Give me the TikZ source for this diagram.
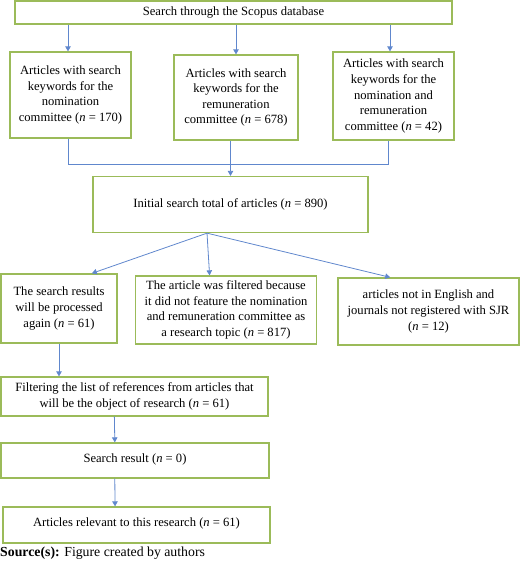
\documentclass[tikz,border=0pt]{standalone}
\usepackage{fontspec}
\setmainfont{Liberation Serif}
\usetikzlibrary{arrows.meta,calc}
\definecolor{boxgreen}{HTML}{9BBB59}
\definecolor{arrblue}{HTML}{4472C4}
\tikzset{
  box/.style={draw=boxgreen, line width=1.3pt, fill=white, align=center, inner sep=2pt,
    font=\fontsize{12.6}{15.6}\selectfont},
  link/.style={draw=arrblue!85, line width=0.8pt},
  arr/.style={link, -{Triangle[width=5.5pt,length=5pt]}},
}
\begin{document}
\begin{tikzpicture}[x=1pt,y=-1pt]
\useasboundingbox (0,0) rectangle (520,562);
\node[box, minimum width=437pt, minimum height=23pt] (top) at (233.5,12.5) {Search through the Scopus database};
\node[box, minimum width=121pt, minimum height=86pt] (a1) at (70.5,95) {Articles with search\\keywords for the\\nomination\\committee (\textit{n} = 170)};
\node[box, minimum width=124pt, minimum height=85pt] (a2) at (236,97.5) {Articles with search\\keywords for the\\remuneration\\committee (\textit{n} = 678)};
\node[box, minimum width=121pt, minimum height=88pt] (a3) at (393.5,96) {Articles with search\\keywords for the\\nomination and\\remuneration\\committee (\textit{n} = 42)};
\node[box, minimum width=275pt, minimum height=56pt] (init) at (230.5,204.5) {Initial search total of articles (\textit{n} = 890)};
\node[box, minimum width=116pt, minimum height=69pt] (b1) at (59,308.5) {The search results\\will be processed\\again (\textit{n} = 61)};
\node[box, minimum width=181pt, minimum height=68pt] (b2) at (226,310) {The article was filtered because\\it did not feature the nomination\\and remuneration committee as\\a research topic (\textit{n} = 817)};
\node[box, minimum width=181pt, minimum height=67pt] (b3) at (428.5,311.5) {articles not in English and\\journals not registered with SJR\\(\textit{n} = 12)};
\node[box, minimum width=267pt, minimum height=39pt] (c1) at (134.5,396.5) {Filtering the list of references from articles that\\will be the object of research (\textit{n} = 61)};
\node[box, minimum width=268pt, minimum height=35pt, text depth=5pt] (c2) at (135,460.5) {Search result (\textit{n} = 0)};
\node[box, minimum width=267pt, minimum height=36pt, text depth=5pt] (c3) at (136.5,525) {Articles relevant to this research (\textit{n} = 61)};
\node[anchor=west, inner sep=0pt, font=\fontsize{13.8}{16}\selectfont] (src) at (0,553) {\textbf{Source(s):} Figure created by authors};
% top to row A
\draw[arr] (top.south -| 68,0) -- (a1.north -| 68,0);
\draw[arr] (top.south -| a2.north) -- (a2.north);
\draw[arr] (top.south -| 390,0) -- (a3.north -| 390,0);
% row A to initial
\coordinate (jy) at (0,164);
\draw[link] (a1.south -| 68,0) |- (jy -| 388,0) -- (a3.south -| 388,0);
\draw[arr] (a2.south -| init.north) -- (init.north);
% initial to row B
\coordinate (fan) at ($(init.south west)!0.415!(init.south east)$);
\draw[arr] (fan) -- ($(b1.north west)!0.78!(b1.north east)$);
\draw[arr] (fan) -- ($(b2.north west)!0.41!(b2.north east)$);
\draw[arr] (fan) -- ($(b3.north west)!0.29!(b3.north east)$);
% chain
\draw[arr] (b1.south) -- (b1.south |- c1.north);
\draw[arr] ($(c1.south west)!0.425!(c1.south east)$) -- ($(c2.north west)!0.425!(c2.north east)$);
\draw[arr] ($(c2.south west)!0.425!(c2.south east)$) -- ($(c3.north west)!0.42!(c3.north east)$);
\end{tikzpicture}
\end{document}
